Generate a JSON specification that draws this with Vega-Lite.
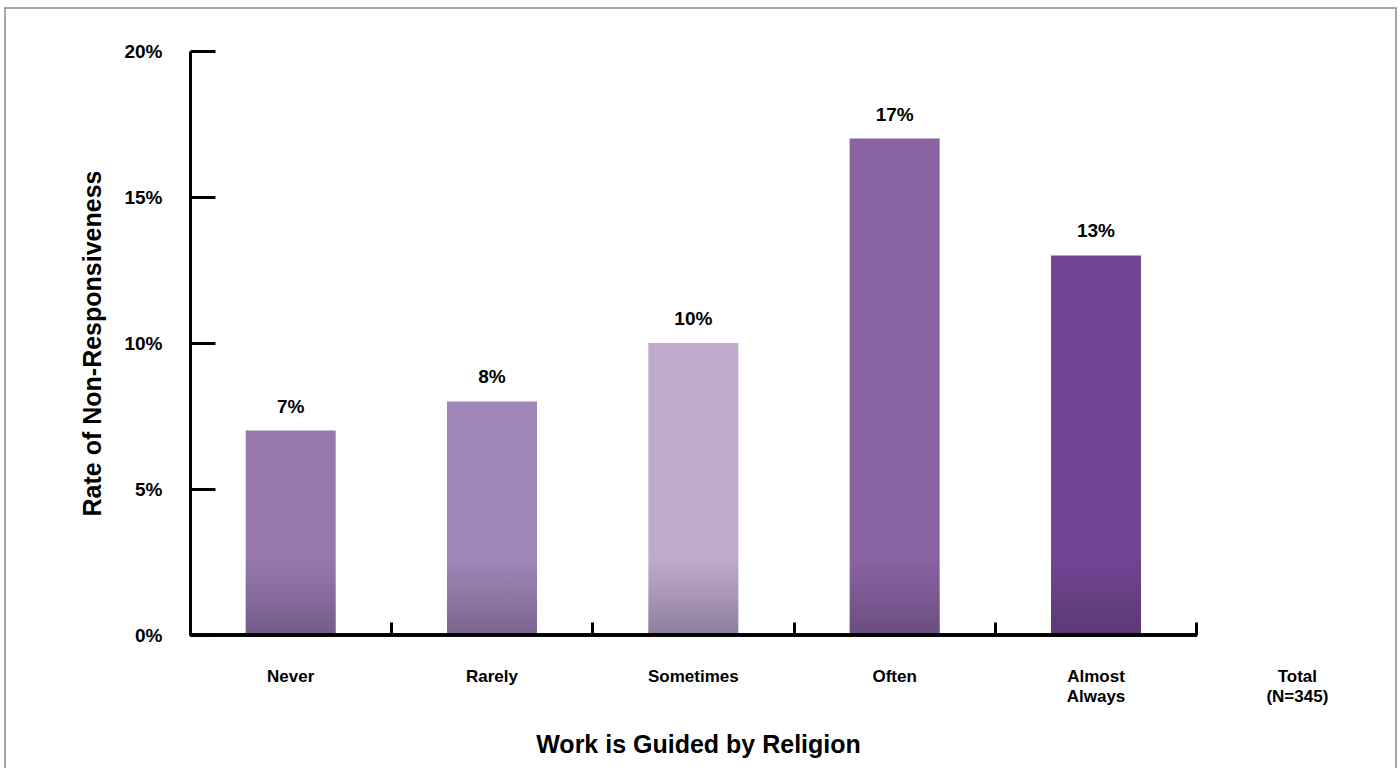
{
  "$schema": "https://vega.github.io/schema/vega-lite/v6.json",
  "autosize": "none",
  "padding": {"left": 5, "top": 8, "right": 4, "bottom": 0},
  "width": 1391,
  "height": 770,
  "background": "white",
  "config": {
    "view": {"stroke": "#8a8a8a", "strokeWidth": 1.5},
    "font": "Liberation Sans",
    "axis": {"grid": false}
  },
  "data": {
    "values": [
      {"category": "Never", "rate": 0.07},
      {"category": "Rarely", "rate": 0.08},
      {"category": "Sometimes", "rate": 0.10},
      {"category": "Often", "rate": 0.17},
      {"category": "Almost Always", "rate": 0.13}
    ]
  },
  "layer": [
    {
      "mark": {"type": "bar", "width": {"band": 0.447}},
      "encoding": {
        "x": {
          "field": "category",
          "type": "nominal",
          "sort": null,
          "scale": {
            "domain": ["Never", "Rarely", "Sometimes", "Often", "Almost Always", "Total (N=345)"],
            "range": [185, 1393],
            "paddingInner": 0,
            "paddingOuter": 0
          },
          "axis": {
            "title": "Work is Guided by Religion",
            "orient": "bottom",
            "offset": -143,
            "domain": false,
            "ticks": true,
            "tickSize": -13,
            "tickWidth": 3,
            "tickColor": "black",
            "bandPosition": 0,
            "labelAngle": 0,
            "labelExpr": "split(datum.value, ' ')",
            "labelFont": "Liberation Sans",
            "labelFontSize": 17,
            "labelFontWeight": "bold",
            "labelColor": "black",
            "labelPadding": 46,
            "labelBaseline": "top",
            "labelLineHeight": 20,
            "titleFont": "Liberation Sans",
            "titleFontSize": 25,
            "titleFontWeight": "bold",
            "titleColor": "black",
            "titleX": 693,
            "titleY": 109,
            "titleAlign": "center",
            "titleBaseline": "middle"
          }
        },
        "y": {
          "field": "rate",
          "type": "quantitative",
          "scale": {"domain": [0, 0.2], "range": [627, 43], "nice": false, "zero": true},
          "axis": {
            "title": "Rate of Non-Responsiveness",
            "offset": -185,
            "values": [0, 0.05, 0.1, 0.15, 0.2],
            "format": ".0%",
            "domainColor": "black",
            "domainWidth": 3,
            "tickSize": -25,
            "tickWidth": 3,
            "tickColor": "black",
            "labelFont": "Liberation Sans",
            "labelFontSize": 19,
            "labelFontWeight": "bold",
            "labelColor": "black",
            "labelPadding": 53,
            "titleFont": "Liberation Sans",
            "titleFontSize": 25,
            "titleFontWeight": "bold",
            "titleColor": "black",
            "titleX": -98,
            "titleY": 335,
            "titleAngle": -90,
            "titleAlign": "center",
            "titleBaseline": "middle"
          }
        },
        "color": {
          "field": "category",
          "type": "nominal",
          "legend": null,
          "scale": {
            "domain": ["Never", "Rarely", "Sometimes", "Often", "Almost Always"],
            "range": ["#9779b0", "#a187b9", "#c0abcf", "#8a63a3", "#724593"]
          }
        }
      }
    },
    {
      "mark": {
        "type": "bar",
        "width": {"band": 0.447},
        "fill": {
          "gradient": "linear",
          "x1": 0, "y1": 0, "x2": 0, "y2": 1,
          "stops": [
            {"offset": 0, "color": "rgba(40,30,50,0)"},
            {"offset": 0.5, "color": "rgba(40,30,50,0.15)"},
            {"offset": 1, "color": "rgba(40,30,50,0.32)"}
          ]
        }
      },
      "encoding": {
        "x": {"field": "category", "type": "nominal", "sort": null},
        "y": {"datum": 0.027, "type": "quantitative"}
      }
    },
    {
      "mark": {
        "type": "text",
        "dy": -18,
        "baseline": "alphabetic",
        "font": "Liberation Sans",
        "fontSize": 19,
        "fontWeight": "bold",
        "color": "black"
      },
      "encoding": {
        "x": {"field": "category", "type": "nominal", "sort": null},
        "y": {"field": "rate", "type": "quantitative"},
        "text": {"field": "rate", "type": "quantitative", "format": ".0%"}
      }
    },
    {
      "mark": {"type": "rule", "color": "black", "strokeWidth": 3},
      "encoding": {
        "x": {"datum": "Never", "type": "nominal", "bandPosition": 0},
        "x2": {"datum": "Almost Always", "bandPosition": 1},
        "y": {"datum": 0, "type": "quantitative"}
      }
    }
  ]
}
